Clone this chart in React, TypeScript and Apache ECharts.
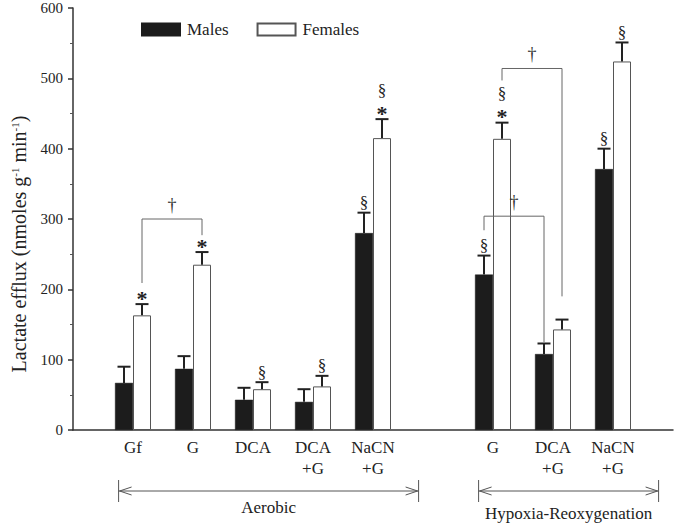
import React, { useEffect, useRef } from "react";
import * as echarts from "echarts";

// ---- data ----
const categories = ["", "Gf", "G", "DCA", "DCA\n+G", "NaCN\n+G", "", "G", "DCA\n+G", "NaCN\n+G", ""];
const malesValues = [null, 67, 87, 43, 40, 280, null, 221, 108, 371, null];
const malesCaps = [null, 90, 105, 60, 58, 309, null, 248, 123, 400, null];
const femalesValues = [null, 163, 235, 58, 62, 415, null, 414, 143, 524, null];
const femalesCaps = [null, 179, 253, 68, 77, 442, null, 437, 157, 551, null];
// significance symbols stacked upward from the error cap
const malesMarks = ["", "", "", "", "", "§", "", "§", "", "§", ""];
const femalesMarks = ["", "*", "*", "§", "§", "*§", "", "*§", "", "§", ""];
// brackets: [leftCat, leftSide, rightCat, rightSide, topValue, leftBottomValue, rightBottomValue]
const brackets = [
  [1, 1, 2, 1, 300, 209, 277],
  [7, 1, 8, 1, 514, 497, 190],
  [7, -1, 8, -1, 304, 284, 125],
];
const groupFirst = [1, 7];
const groupLast = [5, 9];
const groupNames = ["Aerobic", "Hypoxia-Reoxygenation"];
const yTicks = [0, 600, 100];

const FONT = "'Liberation Serif', 'Times New Roman', serif";
const BAR_W = 18;

function errorSeries(name: string, vals: (number | null)[], caps: (number | null)[], marks: string[], side: number) {
  const data = vals
    .map((v, i) => (v == null ? null : [i, v, caps[i] as number, marks[i]]))
    .filter((d) => d != null);
  return {
    type: "custom",
    name: name + "-err",
    silent: true,
    z: 5,
    encode: { x: 0, y: [1, 2] },
    data,
    renderItem: (params: any, api: any) => {
      const idx = api.value(0);
      const top = api.coord([idx, api.value(1)]);
      const cap = api.coord([idx, api.value(2)]);
      const cx = top[0] + side * (BAR_W / 2);
      const children: any[] = [
        { type: "line", shape: { x1: cx, y1: top[1], x2: cx, y2: cap[1] }, style: { stroke: "#222", lineWidth: 2 } },
        { type: "line", shape: { x1: cx - 6.5, y1: cap[1], x2: cx + 6.5, y2: cap[1] }, style: { stroke: "#222", lineWidth: 2 } },
      ];
      const m: string = (data[params.dataIndex] as any)[3] || "";
      let y = cap[1] - 10;
      for (const ch of m.split("")) {
        const isStar = ch === "*";
        children.push({
          type: "text",
          style: {
            text: ch,
            x: cx,
            y: y + (isStar ? 4 : 0),
            align: "center",
            verticalAlign: "middle",
            fontFamily: FONT,
            fontSize: isStar ? 22 : 17,
            fontWeight: isStar ? "bold" : "normal",
            fill: "#222",
          },
        });
        y -= 19;
      }
      return { type: "group", children };
    },
  };
}

const bracketSeries = {
  type: "custom",
  name: "brackets",
  silent: true,
  z: 4,
  data: brackets,
  renderItem: (params: any, api: any) => {
    const b = brackets[params.dataIndex];
    const l = api.coord([b[0], b[4]]);
    const r = api.coord([b[2], b[4]]);
    const lb = api.coord([b[0], b[5]]);
    const rb = api.coord([b[2], b[6]]);
    const lx = l[0] + b[1] * (BAR_W / 2);
    const rx = r[0] + b[3] * (BAR_W / 2);
    const st = { stroke: "#666", lineWidth: 1 };
    return {
      type: "group",
      children: [
        { type: "polyline", shape: { points: [[lx, lb[1]], [lx, l[1]], [rx, l[1]], [rx, rb[1]]] }, style: { ...st, fill: "none" } },
        {
          type: "text",
          style: { text: "†", x: (lx + rx) / 2, y: l[1] - 14, align: "center", verticalAlign: "middle", fontFamily: FONT, fontSize: 18, fill: "#333" },
        },
      ],
    };
  },
};

const groupSeries = {
  type: "custom",
  name: "groups",
  silent: true,
  data: groupFirst.map((f, i) => [f, groupLast[i]]),
  renderItem: (params: any, api: any) => {
    const i = params.dataIndex;
    const slot = api.size([1, 0])[0];
    const a = api.coord([groupFirst[i], 0]);
    const b = api.coord([groupLast[i], 0]);
    const x1 = a[0] - 0.24 * slot;
    const x2 = b[0] + 0.76 * slot;
    const y = a[1] + 61;
    const st = { stroke: "#555", lineWidth: 1 };
    return {
      type: "group",
      children: [
        { type: "line", shape: { x1, y1: y, x2, y2: y }, style: st },
        { type: "line", shape: { x1, y1: y - 11, x2: x1, y2: y + 11 }, style: st },
        { type: "line", shape: { x1: x2, y1: y - 11, x2, y2: y + 11 }, style: st },
        { type: "polyline", shape: { points: [[x1 + 13, y - 4], [x1 + 1, y], [x1 + 13, y + 4]] }, style: { ...st, fill: "none" } },
        { type: "polyline", shape: { points: [[x2 - 13, y - 4], [x2 - 1, y], [x2 - 13, y + 4]] }, style: { ...st, fill: "none" } },
        {
          type: "text",
          style: {
            text: groupNames[i],
            x: (x1 + x2) / 2,
            y: y + (i === 0 ? 25 : 31),
            align: "center",
            verticalAlign: "bottom",
            fontFamily: FONT,
            fontSize: 17,
            fill: "#222",
          },
        },
      ],
    };
  },
};

export default function App() {
  const ref = useRef<HTMLDivElement>(null);
  useEffect(() => {
    if (!ref.current) return;
    const chart = echarts.init(ref.current, null, { renderer: "svg" });
    chart.setOption({
      animation: false,
      backgroundColor: "#fff",
      textStyle: { fontFamily: FONT },
      legend: {
        data: ["Males", "Females"],
        left: 141,
        top: 21,
        padding: 0,
        itemWidth: 38,
        itemHeight: 12,
        itemGap: 28,
        selectedMode: false,
        icon: "rect",
        textStyle: { fontFamily: FONT, fontSize: 17, color: "#222", padding: [0, 0, 0, 2] },
      },
      grid: { left: 73, right: 1, top: 8, bottom: 96, containLabel: false },
      xAxis: {
        type: "category",
        data: categories,
        boundaryGap: false,
        axisLine: { lineStyle: { color: "#333", width: 1.5 } },
        axisTick: { show: false },
        axisLabel: { interval: 0, fontFamily: FONT, fontSize: 17, color: "#222", lineHeight: 21, margin: 7 },
        splitLine: { show: false },
      },
      yAxis: {
        type: "value",
        min: yTicks[0],
        max: yTicks[1],
        interval: yTicks[2],
        name: "Lactate efflux (nmoles g{sup|-1} min{sup|-1})",
        nameLocation: "middle",
        nameRotate: 90,
        nameGap: 44,
        nameTextStyle: {
          fontFamily: FONT,
          fontSize: 20,
          color: "#222",
          padding: [0, 50, 0, 0],
          rich: { sup: { fontFamily: FONT, fontSize: 11, verticalAlign: "top", color: "#222" } },
        },
        axisLine: { show: true, lineStyle: { color: "#333", width: 1.5 } },
        axisTick: { show: true, inside: false, length: 5, lineStyle: { color: "#333", width: 1.5 } },
        minorTick: { show: true, splitNumber: 2, length: 3, lineStyle: { color: "#555", width: 1 } },
        axisLabel: { fontFamily: FONT, fontSize: 15, color: "#222", margin: 10 },
        splitLine: { show: false },
      },
      series: [
        {
          name: "Males",
          type: "bar",
          data: malesValues,
          barWidth: BAR_W,
          barGap: "0%",
          itemStyle: { color: "#1c1c1c", borderColor: "#1c1c1c", borderWidth: 0.5 },
          z: 3,
        },
        {
          name: "Females",
          type: "bar",
          data: femalesValues,
          barWidth: BAR_W,
          barGap: "0%",
          itemStyle: { color: "#ffffff", borderColor: "#555", borderWidth: 1 },
          z: 3,
        },
        errorSeries("Males", malesValues, malesCaps, malesMarks, -1),
        errorSeries("Females", femalesValues, femalesCaps, femalesMarks, 1),
        bracketSeries,
        groupSeries,
      ],
    });
    return () => chart.dispose();
  }, []);
  return <div ref={ref} style={{ position: "fixed", left: 0, top: 0, width: 676, height: 526 }} />;
}
